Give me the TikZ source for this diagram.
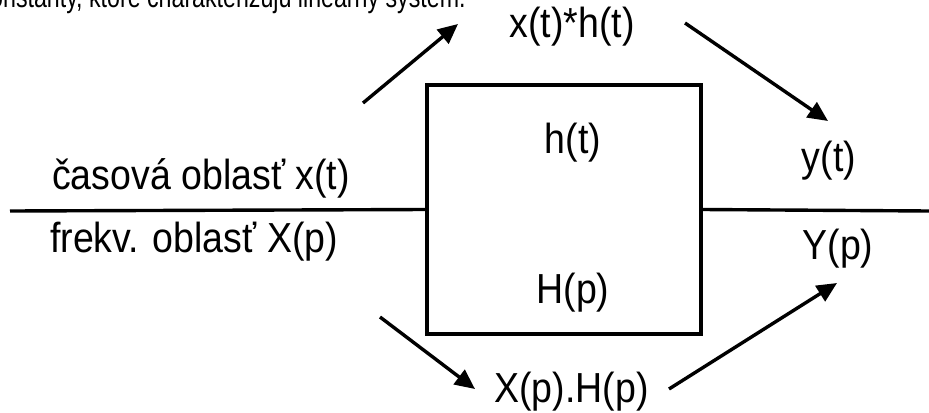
\documentclass[tikz,border=0pt]{standalone}
\usepackage{fontspec}
\usepackage{graphicx}
\setmainfont{Liberation Sans}
\usetikzlibrary{arrows.meta}
\newcommand{\tallt}[1]{\scalebox{1}[1.12]{#1}}
\begin{document}
\begin{tikzpicture}[x=0.5pt,y=-0.5pt,
  lbl/.style={font=\fontsize{18.75}{22}\selectfont, inner sep=0pt, anchor=base},
  toplbl/.style={font=\fontsize{11.6}{14}\selectfont, inner sep=0pt, anchor=base east},
  wire/.style={line width=1.7pt},
  arr/.style={line width=1.7pt, -{Triangle[length=10pt,width=9pt]}},
  blockbox/.style={draw, line width=2pt, minimum width=137pt, minimum height=124.5pt, inner sep=0pt}
]
\useasboundingbox (0,0) rectangle (929,412);
\clip (0,0) rectangle (929,412);
% cut-off sentence at the top
\node[toplbl] (top) at (466,7) {\scalebox{1}[1.3]{konštanty, ktoré charakterizujú lineárny systém.}};
% block
\node[blockbox] (box) at (564,209.5) {};
\node[lbl] (ht) at (573,153) {\tallt{h(t)}};
\node[lbl] (Hp) at (573,303) {\tallt{H(p)}};
% input / output lines
\coordinate (inL) at (10,211);
\coordinate (outR) at (929,211);
\draw[wire] (inL) -- (box.west);
\draw[wire] (box.east) -- (outR);
% labels
\node[lbl] (xt) at (201,189) {\tallt{časová oblasť x(t)}};
\node[lbl] (Xp) at (194,252) {\tallt{frekv. oblasť X(p)}};
\node[lbl] (yt) at (829,171) {\tallt{y(t)}};
\node[lbl] (Yp) at (838,259) {\tallt{Y(p)}};
\node[lbl] (conv) at (572,37) {\tallt{x(t)*h(t)}};
\node[lbl] (prod) at (571.5,402) {\tallt{X(p).H(p)}};
% arrow ends
\coordinate (a1s) at (363,103);
\coordinate (a1e) at (458,24);
\coordinate (a2s) at (685,23);
\coordinate (a2e) at (828,121);
\coordinate (a3s) at (380,317);
\coordinate (a3e) at (475,389);
\coordinate (a4s) at (669,389);
\coordinate (a4e) at (837,283);
\draw[arr] (a1s) -- (a1e);
\draw[arr] (a2s) -- (a2e);
\draw[arr] (a3s) -- (a3e);
\draw[arr] (a4s) -- (a4e);
\end{tikzpicture}
\end{document}
